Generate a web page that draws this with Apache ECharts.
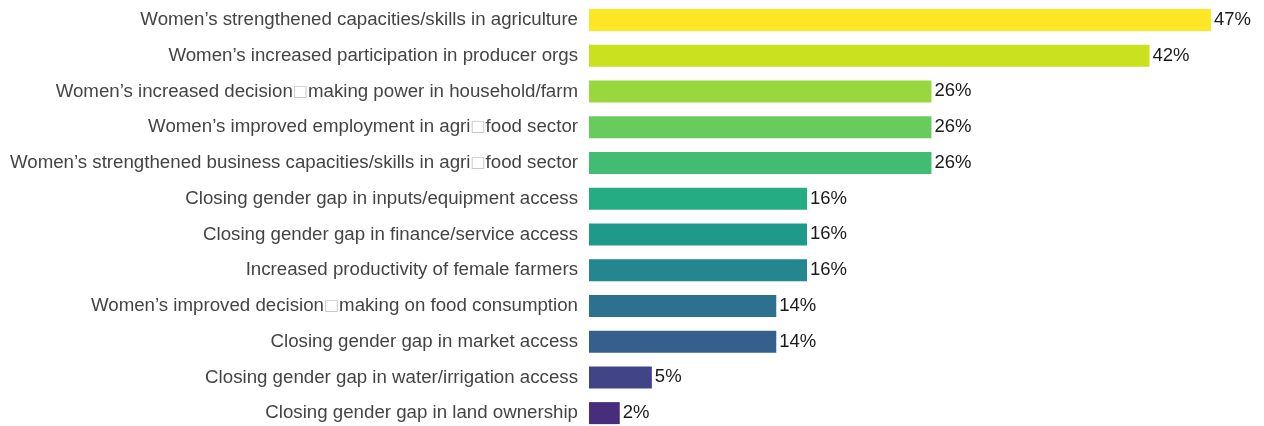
<!DOCTYPE html>
<html>
<head>
<meta charset="utf-8">
<script src="https://cdn.jsdelivr.net/npm/echarts@6/dist/echarts.min.js"></script>
<style>
  html, body { margin: 0; padding: 0; background: #fff; overflow: hidden; }
  #chart { width: 1264px; height: 434px; }
</style>
</head>
<body>
<div id="chart"></div>
<script>
var categories = [
  'Women\u2019s strengthened capacities/skills in agriculture',
  'Women\u2019s increased participation in producer orgs',
  'Women\u2019s increased decision\u25A1making power in household/farm',
  'Women\u2019s improved employment in agri\u25A1food sector',
  'Women\u2019s strengthened business capacities/skills in agri\u25A1food sector',
  'Closing gender gap in inputs/equipment access',
  'Closing gender gap in finance/service access',
  'Increased productivity of female farmers',
  'Women\u2019s improved decision\u25A1making on food consumption',
  'Closing gender gap in market access',
  'Closing gender gap in water/irrigation access',
  'Closing gender gap in land ownership'
]
// shares (%); labels show them rounded
var values = [46.5, 41.9, 25.6, 25.6, 25.6, 16.3, 16.3, 16.3, 14.0, 14.0, 4.7, 2.3]
var colors = ['#FDE725', '#CAE11F', '#98D83E', '#67CC5C', '#40BD72', '#25AC82',
              '#1F998A', '#24868E', '#2C728E', '#355F8D', '#414487', '#472D7B']

var myChart = echarts.init(document.getElementById('chart'))

var option = {
  animation: false,
  grid: { left: 589, top: 2, width: 622, height: 429 },
  xAxis: {
    type: 'value',
    min: 0,
    max: 46.5,
    show: false
  },
  yAxis: {
    type: 'category',
    inverse: true,
    data: categories,
    axisLine: { show: false },
    axisTick: { show: false },
    axisLabel: {
      margin: 11,
      fontFamily: 'Liberation Sans',
      fontSize: 18.7,
      color: '#444444',
      formatter: function (v) {
        return v.split('\u25A1').join('{box|\u25A1}')
      },
      rich: {
        box: { fontSize: 16, color: '#c8c8c8', fontFamily: 'DejaVu Sans' }
      }
    }
  },
  series: [{
    type: 'bar',
    barWidth: 22,
    data: values.map(function (v, i) {
      return { value: v, itemStyle: { color: colors[i] } }
    }),
    label: {
      show: true,
      position: 'right',
      distance: 3,
      formatter: function (p) { return Math.round(p.value) + '%' },
      fontFamily: 'Liberation Sans',
      fontSize: 18.5,
      color: '#1a1a1a'
    }
  }]
}
myChart.setOption(option)
</script>
</body>
</html>
